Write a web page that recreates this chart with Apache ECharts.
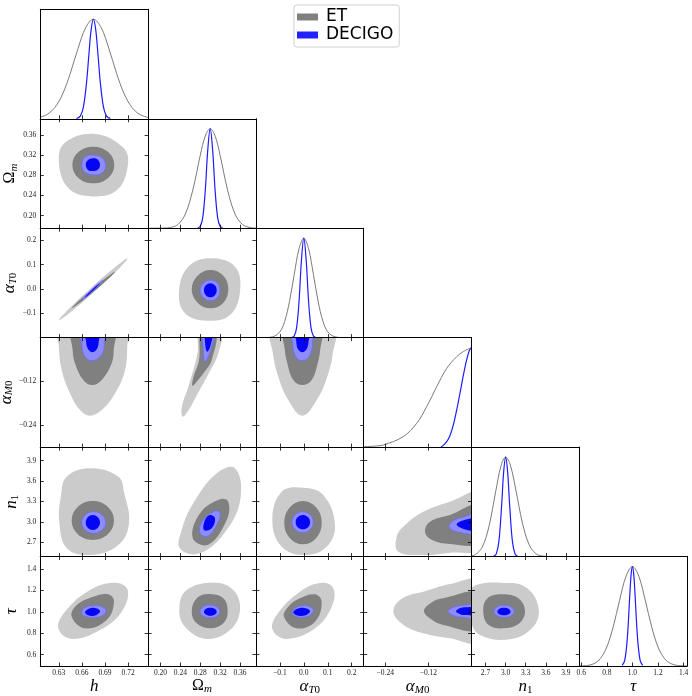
<!DOCTYPE html>
<html>
<head>
<meta charset="utf-8">
<script src="https://cdn.jsdelivr.net/npm/echarts@6/dist/echarts.min.js"></script>
<style>
html,body{margin:0;padding:0;background:#fff;}
#chart{width:692px;height:696px;}
</style>
</head>
<body>
<div id="chart"></div>
<script>
// tick values of each parameter
var hTicks = [0.63, 0.66, 0.69, 0.72];
var OmTicks = [0.20, 0.24, 0.28, 0.32, 0.36];
var aTTicks = [-0.1, 0.0, 0.1, 0.2];
var aMTicks = [-0.24, -0.12];
var n1Ticks = [2.7, 3.0, 3.3, 3.6, 3.9];
var tauTicks = [0.6, 0.8, 1.0, 1.2, 1.4];

// 1D marginals (peak normalised to 1)
var hET = [[0.606,0.016],[0.615,0.044],[0.625,0.114],[0.635,0.249],[0.645,0.458],[0.655,0.707],[0.665,0.917],[0.675,1],[0.685,0.917],[0.695,0.707],[0.705,0.458],[0.715,0.249],[0.725,0.114],[0.735,0.044],[0.746,0.013]];
var hDECIGO = [[0.653,0.002],[0.658,0.026],[0.662,0.119],[0.666,0.36],[0.669,0.636],[0.672,0.893],[0.675,1],[0.678,0.893],[0.681,0.636],[0.684,0.36],[0.688,0.119],[0.692,0.026],[0.697,0.002]];
var OmET = [[0.175,0],[0.19,0.0001],[0.205,0.0009],[0.22,0.0067],[0.235,0.037],[0.25,0.142],[0.265,0.384],[0.28,0.732],[0.29,0.925],[0.30,1],[0.31,0.925],[0.32,0.732],[0.335,0.384],[0.35,0.142],[0.365,0.037],[0.38,0.0067],[0.392,0.001]];
var OmDECIGO = [[0.275,0.002],[0.28,0.019],[0.285,0.107],[0.29,0.371],[0.295,0.78],[0.30,1],[0.305,0.78],[0.31,0.371],[0.315,0.107],[0.32,0.019],[0.325,0.002]];
var aTET = [[-0.2,0],[-0.16,0.0007],[-0.13,0.008],[-0.10,0.059],[-0.08,0.163],[-0.06,0.361],[-0.04,0.636],[-0.02,0.893],[0,1],[0.02,0.893],[0.04,0.636],[0.06,0.361],[0.08,0.163],[0.10,0.059],[0.13,0.008],[0.16,0.0007],[0.2,0],[0.25,0]];
var aTDECIGO = [[-0.05,0.002],[-0.04,0.017],[-0.03,0.101],[-0.02,0.361],[-0.01,0.775],[0,1],[0.01,0.775],[0.02,0.361],[0.03,0.101],[0.04,0.017],[0.05,0.002]];
var aMET = [[-0.3,0.004],[-0.27,0.01],[-0.2455,0.021],[-0.19,0.105],[-0.1525,0.239],[-0.1247,0.406],[-0.0969,0.607],[-0.069,0.792],[-0.0412,0.909],[-0.0228,0.96],[0,1]];
var aMDECIGO = [[-0.085,0.002],[-0.08,0.012],[-0.07,0.05],[-0.06,0.115],[-0.05,0.23],[-0.0412,0.374],[-0.03,0.58],[-0.0228,0.72],[-0.0135,0.876],[-0.006,0.97],[0,1]];
var n1ET = [[2.49,0.0066],[2.55,0.02],[2.65,0.094],[2.75,0.3],[2.85,0.648],[2.93,0.91],[3.0,1],[3.07,0.919],[3.15,0.678],[3.25,0.339],[3.35,0.12],[3.45,0.03],[3.55,0.005],[3.7,0],[4.1,0]];
var n1DECIGO = [[2.82,0.0025],[2.86,0.027],[2.9,0.157],[2.94,0.514],[2.97,0.847],[3.0,1],[3.03,0.847],[3.06,0.514],[3.1,0.157],[3.14,0.027],[3.18,0.0025]];
var tauET = [[0.585,0.0008],[0.65,0.006],[0.7,0.024],[0.75,0.076],[0.8,0.191],[0.85,0.395],[0.9,0.662],[0.95,0.902],[1.0,1],[1.05,0.902],[1.1,0.662],[1.15,0.395],[1.2,0.191],[1.25,0.076],[1.3,0.024],[1.35,0.006],[1.427,0.0005]];
var tauDECIGO = [[0.92,0.006],[0.94,0.056],[0.96,0.278],[0.98,0.726],[0.99,0.923],[1.0,1],[1.01,0.923],[1.02,0.726],[1.04,0.278],[1.06,0.056],[1.08,0.006]];

// 2D contours: [ET 95%, ET 68%, DECIGO 95%, DECIGO 68%], vertices as [x, y]
var ct_h_Om = [
  [[0.630,0.310],[0.639,0.346],[0.677,0.362],[0.713,0.336],[0.720,0.304],[0.706,0.251],[0.673,0.238],[0.642,0.255]],
  [[0.6476,0.3003],[0.6555,0.3260],[0.6748,0.3366],[0.6941,0.3260],[0.7021,0.3003],[0.6941,0.2746],[0.6748,0.2640],[0.6555,0.2746]],
  [[0.6598,0.3010],[0.6640,0.3160],[0.6740,0.3201],[0.6860,0.3150],[0.6909,0.2990],[0.6870,0.2850],[0.6760,0.2805],[0.6640,0.2860]],
  [[0.6650,0.3015],[0.6680,0.3100],[0.6742,0.3136],[0.6805,0.3110],[0.6835,0.3005],[0.6805,0.2910],[0.6742,0.2884],[0.6680,0.2905]]
];
var ct_h_aT = [
  [[0.6307,-0.1274],[0.6773,-0.0083],[0.7195,0.1262],[0.6729,0.0071]],
  [[0.6468,-0.0793],[0.6762,-0.0087],[0.7030,0.0711],[0.6736,0.0005]],
  [[0.6598,-0.0452],[0.6747,-0.0072],[0.6878,0.0370],[0.6729,-0.0010]],
  [[0.6641,-0.0341],[0.6743,-0.0071],[0.6835,0.0235],[0.6733,-0.0035]]
];
var ct_h_aM = [
  [[0.6295,0.02],[0.6299,-0.02],[0.6338,-0.0887],[0.6446,-0.1525],[0.6576,-0.1983],[0.6705,-0.2139],[0.6857,-0.1983],[0.7032,-0.1525],[0.7161,-0.0887],[0.7190,-0.02],[0.7195,0.02]],
  [[0.6476,0.02],[0.6478,-0.03],[0.6511,-0.0703],[0.6618,-0.116],[0.6735,-0.1298],[0.6857,-0.116],[0.6987,-0.0703],[0.7015,-0.03],[0.7017,0.02]],
  [[0.6589,0.02],[0.6600,-0.02],[0.6611,-0.0385],[0.6660,-0.0570],[0.6735,-0.0632],[0.6810,-0.0570],[0.6878,-0.0385],[0.6888,-0.02],[0.6891,0.02]],
  [[0.6650,0.02],[0.6655,-0.012],[0.6680,-0.031],[0.6735,-0.0402],[0.6795,-0.031],[0.6818,-0.012],[0.6822,0.02]]
];
var ct_h_n1 = [
  [[0.6307,3.00],[0.6330,3.40],[0.6403,3.665],[0.6705,3.788],[0.7073,3.665],[0.7150,3.42],[0.7212,2.979],[0.7073,2.660],[0.6705,2.513],[0.6403,2.616]],
  [[0.6467,3.020],[0.6548,3.223],[0.6742,3.307],[0.6936,3.223],[0.7017,3.020],[0.6936,2.817],[0.6742,2.734],[0.6548,2.817]],
  [[0.6598,2.991],[0.6643,3.103],[0.6753,3.150],[0.6863,3.103],[0.6909,2.991],[0.6863,2.879],[0.6753,2.832],[0.6643,2.879]],
  [[0.6650,2.990],[0.6677,3.068],[0.6742,3.101],[0.6807,3.068],[0.6835,2.990],[0.6807,2.912],[0.6742,2.880],[0.6677,2.912]]
];
var ct_h_tau = [
  [[0.6294,0.846],[0.6468,0.747],[0.6835,0.830],[0.7117,1.001],[0.7195,1.203],[0.7030,1.271],[0.6705,1.203],[0.6381,1.001]],
  [[0.6468,0.954],[0.6641,0.846],[0.6922,0.924],[0.7017,1.094],[0.6943,1.163],[0.6748,1.141],[0.6533,1.063]],
  [[0.6598,0.985],[0.6660,0.955],[0.6760,0.949],[0.6870,0.965],[0.6913,1.015],[0.6850,1.050],[0.6750,1.057],[0.6640,1.040]],
  [[0.6641,0.993],[0.6680,0.968],[0.6740,0.961],[0.6800,0.975],[0.6835,1.005],[0.6796,1.030],[0.6736,1.038],[0.6676,1.023]]
];
var ct_Om_aT = [
  [[0.2372,-0.0111],[0.2559,0.0917],[0.3006,0.1262],[0.3499,0.0917],[0.3600,-0.0111],[0.3399,-0.1069],[0.2930,-0.1303],[0.2493,-0.0999]],
  [[0.2628,-0.0008],[0.2746,0.0548],[0.3006,0.0781],[0.3266,0.0548],[0.3364,-0.0008],[0.3266,-0.0564],[0.3006,-0.0793],[0.2746,-0.0564]],
  [[0.2795,-0.0055],[0.2864,0.0245],[0.3006,0.037],[0.3148,0.0245],[0.3197,-0.0055],[0.3148,-0.0355],[0.3006,-0.048],[0.2864,-0.0355]],
  [[0.2875,-0.0053],[0.2912,0.0150],[0.3003,0.0234],[0.3094,0.0150],[0.3131,-0.0053],[0.3094,-0.0256],[0.3003,-0.0341],[0.2912,-0.0256]]
];
var ct_Om_aM = [
  [[0.2795,0.02],[0.2745,-0.0429],[0.2560,-0.1344],[0.2430,-0.1893],[0.2447,-0.2167],[0.2560,-0.2000],[0.2760,-0.1500],[0.2962,-0.1000],[0.3163,-0.0429],[0.3211,0.02]],
  [[0.2829,0.02],[0.2775,-0.0613],[0.2660,-0.110],[0.2640,-0.1317],[0.2720,-0.122],[0.2880,-0.095],[0.3030,-0.0613],[0.3117,0.02]],
  [[0.2875,0.02],[0.2861,-0.0339],[0.2895,-0.0659],[0.3010,-0.0339],[0.3077,0.02]],
  [[0.2910,0.02],[0.2901,-0.0201],[0.2942,-0.0385],[0.3010,-0.0201],[0.3050,0.02]]
];
var ct_Om_n1 = [
  [[0.2392,2.608],[0.2795,2.538],[0.3332,2.881],[0.3614,3.370],[0.3499,3.788],[0.3131,3.715],[0.2660,3.274],[0.2426,2.881]],
  [[0.2648,2.763],[0.2962,2.665],[0.3332,3.028],[0.3364,3.297],[0.3197,3.332],[0.2795,3.126]],
  [[0.2795,2.832],[0.2962,2.793],[0.3163,3.001],[0.3197,3.135],[0.3097,3.160],[0.2836,3.001]],
  [[0.2875,2.881],[0.3030,2.906],[0.3097,3.053],[0.2996,3.101],[0.2895,3.028]]
];
var ct_Om_tau = [
  [[0.2378,1.033],[0.2527,1.203],[0.3062,1.271],[0.3465,1.203],[0.3600,1.017],[0.3399,0.830],[0.2930,0.747],[0.2493,0.861]],
  [[0.2628,1.001],[0.2728,1.126],[0.2962,1.166],[0.3264,1.126],[0.3352,1.001],[0.3264,0.893],[0.3006,0.846],[0.2728,0.893]],
  [[0.2795,1.004],[0.2854,1.046],[0.2996,1.063],[0.3138,1.046],[0.3197,1.004],[0.3138,0.962],[0.2996,0.945],[0.2854,0.962]],
  [[0.2875,1.001],[0.2912,1.027],[0.3003,1.038],[0.3094,1.027],[0.3131,1.001],[0.3094,0.975],[0.3003,0.964],[0.2912,0.975]]
];
var ct_aT_aM = [
  [[-0.1315,0.02],[-0.1290,-0.0429],[-0.1065,-0.107],[-0.0648,-0.1709],[-0.0063,-0.2139],[0.0538,-0.1709],[0.0980,-0.107],[0.1210,-0.0429],[0.1231,0.02]],
  [[-0.0815,0.02],[-0.0800,-0.03],[-0.0689,-0.0703],[-0.0439,-0.116],[-0.0063,-0.1298],[0.0329,-0.116],[0.0580,-0.0703],[0.0690,-0.03],[0.0705,0.02]],
  [[-0.0481,0.02],[-0.0470,-0.015],[-0.0439,-0.0339],[-0.0300,-0.0560],[-0.0063,-0.0632],[0.0170,-0.0560],[0.0329,-0.0339],[0.0360,-0.015],[0.0371,0.02]],
  [[-0.0326,0.02],[-0.0315,-0.010],[-0.0250,-0.031],[-0.0063,-0.0402],[0.0120,-0.031],[0.0200,-0.010],[0.0216,0.02]]
];
var ct_aT_n1 = [
  [[-0.1315,3.028],[-0.0923,3.444],[-0.0022,3.503],[0.0813,3.395],[0.1302,2.954],[0.0955,2.635],[0.0049,2.513],[-0.0923,2.635]],
  [[-0.0815,2.988],[-0.0587,3.213],[-0.0034,3.307],[0.0519,3.213],[0.0747,2.988],[0.0519,2.763],[-0.0034,2.670],[-0.0587,2.763]],
  [[-0.0493,2.996],[-0.0360,3.105],[-0.0047,3.150],[0.0266,3.105],[0.0396,2.996],[0.0266,2.887],[-0.0047,2.841],[-0.0360,2.887]],
  [[-0.0339,2.996],[-0.0251,3.070],[-0.0040,3.101],[0.0171,3.070],[0.0258,2.996],[0.0171,2.922],[-0.0040,2.891],[-0.0251,2.922]]
];
var ct_aT_tau = [
  [[-0.1299,0.830],[-0.0714,0.747],[0.0467,0.846],[0.1164,1.048],[0.1231,1.219],[0.0747,1.271],[-0.0159,1.187],[-0.1132,0.970]],
  [[-0.0827,0.954],[-0.0297,0.846],[0.0467,0.908],[0.0747,1.094],[0.0467,1.163],[-0.0159,1.126],[-0.0648,1.048]],
  [[-0.0481,0.985],[-0.0300,0.955],[-0.0050,0.949],[0.0250,0.965],[0.0396,1.015],[0.0230,1.050],[-0.0070,1.057],[-0.0330,1.040]],
  [[-0.0439,0.993],[-0.0300,0.968],[-0.0090,0.961],[0.0140,0.975],[0.0258,1.005],[0.0120,1.030],[-0.0090,1.038],[-0.0320,1.023]]
];
var ct_aM_n1 = [
  [[-0.2082,2.782],[-0.2037,2.561],[-0.1341,2.513],[-0.0598,2.547],[0.02,2.611],[0.02,3.420],[-0.0598,3.297],[-0.1341,3.150],[-0.1851,2.954]],
  [[-0.1294,2.856],[-0.1108,2.737],[-0.0598,2.675],[0.02,2.700],[0.02,3.240],[-0.0598,3.101],[-0.1155,3.003]],
  [[-0.0626,2.930],[-0.0420,2.855],[0.02,2.845],[0.02,3.110],[-0.0300,3.060],[-0.0520,3.010]],
  [[-0.0412,2.960],[-0.0150,2.885],[0.02,2.880],[0.02,3.050],[-0.0180,3.030]]
];
var ct_aM_tau = [
  [[-0.2176,1.007],[-0.1900,1.130],[-0.1341,1.187],[-0.0598,1.259],[0.02,1.285],[0.02,0.725],[-0.0598,0.753],[-0.1341,0.800],[-0.1900,0.880]],
  [[-0.1322,1.007],[-0.1100,1.090],[-0.0785,1.126],[0.02,1.170],[0.02,0.840],[-0.0785,0.877],[-0.1100,0.925]],
  [[-0.0650,1.005],[-0.0480,1.045],[-0.0200,1.062],[0.02,1.065],[0.02,0.945],[-0.0200,0.948],[-0.0480,0.962]],
  [[-0.0431,1.005],[-0.0300,1.035],[-0.0100,1.042],[0.02,1.043],[0.02,0.967],[-0.0100,0.970],[-0.0300,0.976]]
];
var ct_n1_tau = [
  [[2.480,0.924],[2.480,1.203],[2.617,1.259],[2.916,1.271],[3.289,1.234],[3.488,1.048],[3.413,0.861],[3.065,0.744],[2.617,0.784]],
  [[2.666,1.000],[2.720,1.120],[2.930,1.163],[3.180,1.130],[3.289,1.010],[3.200,0.890],[2.970,0.846],[2.740,0.880]],
  [[2.826,1.005],[2.870,1.045],[2.977,1.061],[3.084,1.045],[3.129,1.005],[3.084,0.965],[2.977,0.949],[2.870,0.965]],
  [[2.875,1.002],[2.904,1.027],[2.975,1.038],[3.046,1.027],[3.075,1.002],[3.046,0.977],[2.975,0.967],[2.904,0.977]]
];

var specs = [
  {label:'{it|h}', xr:[0.606,0.746], yr:[0.606,0.746], ticks:hTicks, dec:2, et:hET, de:hDECIGO},
  {label:'{up|\u03A9}{si|m}', xr:[0.175,0.392], yr:[0.175,0.392], ticks:OmTicks, dec:2, et:OmET, de:OmDECIGO},
  {label:'{it|\u03B1}{si|T}{su|0}', xr:[-0.2,0.25], yr:[-0.2,0.25], ticks:aTTicks, dec:1, et:aTET, de:aTDECIGO},
  {label:'{it|\u03B1}{si|M}{su|0}', xr:[-0.3,0], yr:[-0.3,0], ticks:aMTicks, dec:2, et:aMET, de:aMDECIGO},
  {label:'{it|n}{su|1}', xr:[2.49,4.1], yr:[2.49,4.1], ticks:n1Ticks, dec:1, et:n1ET, de:n1DECIGO},
  {label:'{it|\u03C4}', xr:[0.585,1.427], yr:[0.495,1.515], ticks:tauTicks, dec:1, et:tauET, de:tauDECIGO}
];
var panels = [
  [1,0,ct_h_Om],
  [2,0,ct_h_aT],[2,1,ct_Om_aT],
  [3,0,ct_h_aM],[3,1,ct_Om_aM],[3,2,ct_aT_aM],
  [4,0,ct_h_n1],[4,1,ct_Om_n1],[4,2,ct_aT_n1],[4,3,ct_aM_n1],
  [5,0,ct_h_tau],[5,1,ct_Om_tau],[5,2,ct_aT_tau],[5,3,ct_aM_tau],[5,4,ct_n1_tau]
];

var L = 40.3, T = 9.3, W = 107.8, H = 109.45;
var SERIF = 'Liberation Serif';
var RICH = {
  it: {fontFamily:SERIF, fontStyle:'italic', fontSize:17, color:'#000', lineHeight:18},
  up: {fontFamily:SERIF, fontSize:16, color:'#000', lineHeight:18},
  si: {fontFamily:SERIF, fontStyle:'italic', fontSize:11, color:'#000', lineHeight:18, verticalAlign:'bottom'},
  su: {fontFamily:SERIF, fontSize:11, color:'#000', lineHeight:18, verticalAlign:'bottom'}
};
var COL = {lg:'#cbcbcb', dg:'#808080', lb:'#8c8cff', b:'#0505f5', etLine:'#7a7a7a', deLine:'#1c1cff'};

function fmt(dec) {
  return function (v) { return (+v).toFixed(dec).replace('-', '\u2212'); };
}
function tick(vals) {
  return {show:true, inside:true, length:3.5, customValues:vals, lineStyle:{color:'#000', width:0.8}};
}
var LINE = {show:true, onZero:false, lineStyle:{color:'#000', width:1}};

var grids = [], xAxes = [], yAxes = [], series = [];
var gridOf = {};

for (var r = 0; r < 6; r++) {
  for (var c = 0; c <= r; c++) {
    var g = grids.length;
    gridOf[r + ',' + c] = g;
    var sx = specs[c], sy = specs[r], diag = (r === c);
    grids.push({left:L + c * W, top:T + r * H, width:W, height:H,
                containLabel:false, outerBoundsMode:'none'});
    xAxes.push({
      gridIndex:g, type:'value', position:'bottom', min:sx.xr[0], max:sx.xr[1], z:5,
      axisLine:LINE, axisTick:tick(sx.ticks), splitLine:{show:false},
      axisLabel:{show:r === 5, customValues:sx.ticks, formatter:fmt(sx.dec), margin:3,
                 fontSize:7.5, fontFamily:SERIF, color:'#222'},
      name:r === 5 ? sx.label : '', nameLocation:'middle', nameGap:9,
      nameTextStyle:{rich:RICH}
    });
    xAxes.push({
      gridIndex:g, type:'value', position:'top', min:sx.xr[0], max:sx.xr[1], z:5,
      axisLine:LINE, axisTick:diag ? {show:false} : tick(sx.ticks),
      axisLabel:{show:false}, splitLine:{show:false}
    });
    var ymin = diag ? 0 : sy.yr[0], ymax = diag ? 1.1 : sy.yr[1];
    yAxes.push({
      gridIndex:g, type:'value', position:'left', min:ymin, max:ymax, z:5,
      axisLine:LINE, axisTick:diag ? {show:false} : tick(sy.ticks), splitLine:{show:false},
      axisLabel:{show:!diag && c === 0, customValues:sy.ticks, formatter:fmt(sy.dec), margin:4,
                 fontSize:7.5, fontFamily:SERIF, color:'#222'},
      name:(!diag && c === 0) ? sy.label : '', nameLocation:'middle', nameGap:20, nameRotate:90,
      nameTextStyle:{rich:RICH}
    });
    yAxes.push({
      gridIndex:g, type:'value', position:'right', min:ymin, max:ymax, z:5,
      axisLine:LINE, axisTick:diag ? {show:false} : tick(sy.ticks),
      axisLabel:{show:false}, splitLine:{show:false}
    });
    if (diag) {
      series.push({type:'line', name:'ET', xAxisIndex:2 * g, yAxisIndex:2 * g, data:sx.et,
        smooth:0.35, symbol:'none', silent:true, z:3,
        lineStyle:{color:COL.etLine, width:1}, itemStyle:{color:COL.dg}});
      series.push({type:'line', name:'DECIGO', xAxisIndex:2 * g, yAxisIndex:2 * g, data:sx.de,
        smooth:0.35, symbol:'none', silent:true, z:4,
        lineStyle:{color:COL.deLine, width:1.2}, itemStyle:{color:COL.deLine}});
    }
  }
}

function contourSeries(g, name, polys, fills, strokes) {
  return {
    type:'custom', name:name, coordinateSystem:'cartesian2d',
    xAxisIndex:2 * g, yAxisIndex:2 * g, silent:true, z:name === 'ET' ? 2 : 3,
    itemStyle:{color:fills[1]},
    data:polys.map(function (p, i) { return [p[0][0], p[0][1], i]; }),
    renderItem:function (params, api) {
      var i = api.value(2);
      var poly = polys[i];
      var pts = poly.map(function (p) { return api.coord(p); });
      var cs = params.coordSys;
      return {
        type:'polygon',
        shape:{points:pts, smooth:poly.length <= 4 ? 0.55 : 0.4},
        style:{fill:fills[i], stroke:strokes[i], lineWidth:strokes[i] ? 0.7 : 0},
        clipPath:{type:'rect', shape:{x:cs.x, y:cs.y, width:cs.width, height:cs.height}}
      };
    }
  };
}

panels.forEach(function (pn) {
  var g = gridOf[pn[0] + ',' + pn[1]];
  var ct = pn[2];
  series.push(contourSeries(g, 'ET', [ct[0], ct[1]], [COL.lg, COL.dg], [null, null]));
  series.push(contourSeries(g, 'DECIGO', [ct[2], ct[3]], [COL.lb, COL.b], ['#6a6aff', null]));
});

var chart = echarts.init(document.getElementById('chart'), null, {renderer:'canvas'});
chart.setOption({
  backgroundColor:'#fff',
  animation:false,
  grid:grids,
  xAxis:xAxes,
  yAxis:yAxes,
  legend:{
    orient:'vertical', left:294, top:5, padding:[3,6,3,3],
    itemWidth:21, itemHeight:7, itemGap:0, icon:'rect', selectedMode:false,
    borderColor:'#d0d0d0', borderWidth:1, borderRadius:3,
    textStyle:{fontSize:17, fontFamily:'DejaVu Sans', color:'#000', lineHeight:18, padding:[0,0,0,3]},
    data:[{name:'ET', itemStyle:{color:COL.dg}}, {name:'DECIGO', itemStyle:{color:'#2222ff'}}]
  },
  series:series
});
</script>
</body>
</html>
